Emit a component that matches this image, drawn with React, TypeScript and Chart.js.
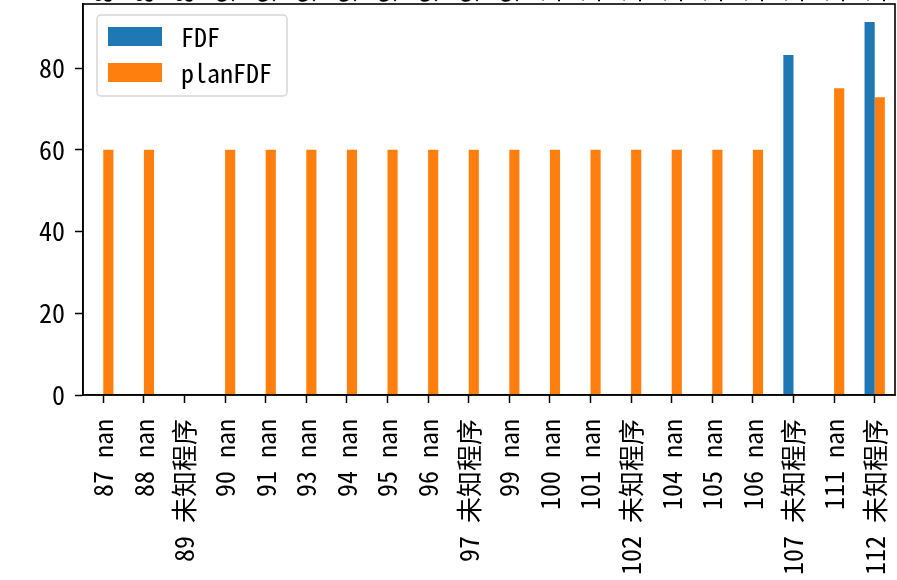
import { useEffect, useRef } from 'react';
import { Chart, registerables } from 'chart.js';

Chart.register(...registerables);

const ids = [87, 88, 89, 90, 91, 93, 94, 95, 96, 97, 99, 100, 101, 102, 104, 105, 106, 107, 111, 112];
const names = ['nan', 'nan', '未知程序', 'nan', 'nan', 'nan', 'nan', 'nan', 'nan', '未知程序', 'nan', 'nan', 'nan', '未知程序', 'nan', 'nan', 'nan', '未知程序', 'nan', '未知程序'];
const categories = ids.map((id, i) => `${id} ${names[i]}`);
const fdfValues: (number | null)[] = [null, null, null, null, null, null, null, null, null, null, null, null, null, null, null, null, null, 83.2, null, 91.3];
const planFdfValues: (number | null)[] = [60, 60, null, 60, 60, 60, 60, 60, 60, 60, 60, 60, 60, 60, 60, 60, 60, null, 75.1, 72.9];
const yTicks = [0, 20, 40, 60, 80];
const yMax = 95.7;
const seriesNames = ['FDF', 'planFDF'];
const seriesColors = ['#1f77b4', '#ff7f0e'];

const FONT = '"Noto Sans Mono CJK SC", "Noto Sans CJK SC", sans-serif';
const FS = 26;

const framePlugin = {
  id: 'frame',
  afterDraw(chart: any) {
    const { ctx, chartArea: a } = chart;
    const xs = chart.scales.x;
    // clipped labels of an upper axes peeking in at the top
    ctx.save();
    ctx.beginPath();
    ctx.rect(0, 0, chart.width, a.top);
    ctx.clip();
    ctx.font = `${FS}px ${FONT}`;
    ctx.fillStyle = '#000';
    ctx.textAlign = 'left';
    ctx.textBaseline = 'middle';
    categories.forEach((c, i) => {
      const x = xs.getPixelForTick(i);
      ctx.save();
      ctx.translate(x, a.top - 1);
      ctx.rotate(-Math.PI / 2);
      ctx.fillText(c, 0, 0);
      ctx.restore();
    });
    ctx.restore();

    // spines
    ctx.save();
    ctx.strokeStyle = '#000';
    ctx.lineWidth = 1.6;
    ctx.strokeRect(a.left, a.top, a.right - a.left, a.bottom - a.top);
    ctx.restore();

    // legend
    ctx.save();
    const lx = a.left + 14;
    const ly = a.top + 11;
    const lw = 190;
    const lh = 81;
    const r = 4;
    ctx.beginPath();
    ctx.moveTo(lx + r, ly);
    ctx.lineTo(lx + lw - r, ly);
    ctx.arcTo(lx + lw, ly, lx + lw, ly + r, r);
    ctx.lineTo(lx + lw, ly + lh - r);
    ctx.arcTo(lx + lw, ly + lh, lx + lw - r, ly + lh, r);
    ctx.lineTo(lx + r, ly + lh);
    ctx.arcTo(lx, ly + lh, lx, ly + lh - r, r);
    ctx.lineTo(lx, ly + r);
    ctx.arcTo(lx, ly, lx + r, ly, r);
    ctx.closePath();
    ctx.fillStyle = 'rgba(255,255,255,0.8)';
    ctx.fill();
    ctx.strokeStyle = '#d6d6d6';
    ctx.lineWidth = 1.5;
    ctx.stroke();
    ctx.font = `${FS}px ${FONT}`;
    ctx.textAlign = 'left';
    ctx.textBaseline = 'middle';
    chart.data.datasets.forEach((ds: any, i: number) => {
      const yy = ly + 12 + i * 36;
      ctx.fillStyle = ds.backgroundColor;
      ctx.fillRect(lx + 11, yy, 54, 19);
      ctx.fillStyle = '#000';
      ctx.fillText(ds.label, lx + 84, yy + 10);
    });
    ctx.restore();
  },
};

export default function App() {
  const ref = useRef<HTMLCanvasElement>(null);
  useEffect(() => {
    if (!ref.current) return;
    const chart = new Chart(ref.current, {
      type: 'bar',
      data: {
        labels: categories,
        datasets: [
          { label: seriesNames[0], data: fdfValues, backgroundColor: seriesColors[0], categoryPercentage: 0.5, barPercentage: 1 },
          { label: seriesNames[1], data: planFdfValues, backgroundColor: seriesColors[1], categoryPercentage: 0.5, barPercentage: 1 },
        ],
      },
      options: {
        animation: false,
        responsive: false,
        maintainAspectRatio: false,
        layout: { padding: { top: 4, right: 2, left: 0, bottom: 0 } },
        plugins: { legend: { display: false }, tooltip: { enabled: false } },
        scales: {
          x: {
            type: 'category',
            offset: true,
            grid: { display: true, drawOnChartArea: false, offset: false, tickLength: 8, tickColor: '#000', tickWidth: 1.5 },
            border: { display: true, color: '#000', width: 1.6 },
            ticks: {
              autoSkip: false,
              minRotation: 90,
              maxRotation: 90,
              padding: 16,
              color: '#000',
              font: { family: FONT, size: FS },
            },
            afterFit(scale: any) {
              scale.height = 185;
              scale.paddingLeft = 0;
              scale.paddingRight = 0;
            },
          },
          y: {
            min: 0,
            max: yMax,
            grid: { display: true, drawOnChartArea: false, tickLength: 8, tickColor: '#000', tickWidth: 1.5 },
            border: { display: true, color: '#000', width: 1.6 },
            ticks: {
              padding: 10,
              color: '#000',
              font: { family: FONT, size: FS },
            },
            afterBuildTicks(scale: any) {
              scale.ticks = yTicks.map((v) => ({ value: v }));
            },
            afterFit(scale: any) {
              scale.width = 83;
              scale.paddingTop = 0;
              scale.paddingBottom = 0;
            },
          },
        },
      },
      plugins: [framePlugin],
    });
    return () => chart.destroy();
  }, []);
  return (
    <div style={{ position: 'fixed', left: 0, top: 0, width: 897, height: 580, background: '#fff' }}>
      <canvas ref={ref} width={897} height={580} style={{ width: 897, height: 580, display: 'block' }} />
    </div>
  );
}
